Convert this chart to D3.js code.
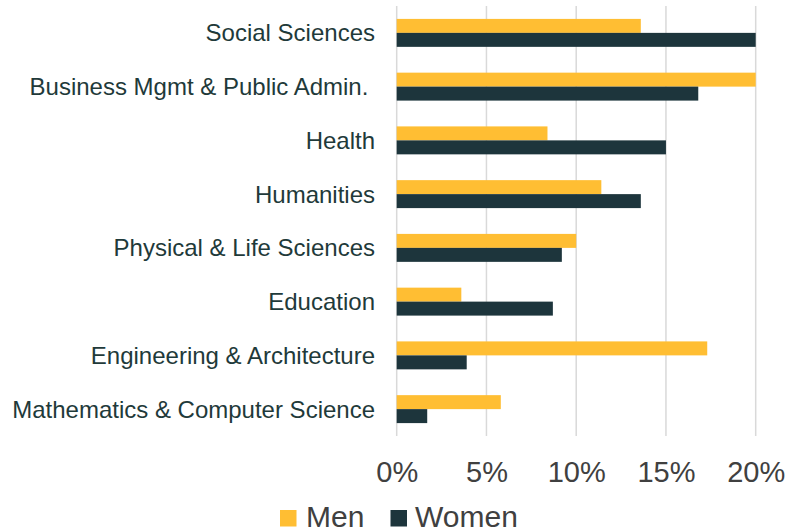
<!DOCTYPE html>
<html>
<head>
<meta charset="utf-8">
<script src="https://cdn.jsdelivr.net/npm/d3@7"></script>
<style>
  body { margin: 0; background: #fff; }
  svg { display: block; font-family: "Liberation Sans", Arial, sans-serif; }
</style>
</head>
<body>
<div id="chart"></div>
<script>
const categories = [
  "Social Sciences",
  "Business Mgmt & Public Admin. ",
  "Health",
  "Humanities",
  "Physical & Life Sciences",
  "Education",
  "Engineering & Architecture",
  "Mathematics & Computer Science"
];
const men = [13.6, 20.0, 8.4, 11.4, 10.0, 3.6, 17.3, 5.8];
const women = [20.0, 16.8, 15.0, 13.6, 9.2, 8.7, 3.9, 1.7];
const seriesNames = ["Men", "Women"];
const tickValues = [0, 5, 10, 15, 20];

const width = 787;
const height = 532;
const margin = { top: 6, right: 31.3, bottom: 96, left: 396.7 };
const colors = { Men: "#FFBE33", Women: "#1D353C" };

const data = categories.map((c, i) => ({ category: c, Men: men[i], Women: women[i] }));

const svg = d3.select("#chart")
  .append("svg")
  .attr("width", width)
  .attr("height", height);

const x = d3.scaleLinear()
  .domain([0, 20])
  .range([margin.left, width - margin.right]);

const y = d3.scaleBand()
  .domain(categories)
  .range([margin.top, height - margin.bottom])
  .paddingInner(0.48)
  .paddingOuter(0.24);

const sub = d3.scaleBand()
  .domain(seriesNames)
  .range([0, y.bandwidth()]);

// gridlines
svg.append("g")
  .selectAll("line")
  .data(tickValues)
  .join("line")
  .attr("x1", d => x(d))
  .attr("x2", d => x(d))
  .attr("y1", margin.top)
  .attr("y2", height - margin.bottom)
  .attr("stroke", "#D9D9D9")
  .attr("stroke-width", 1.5);

// bars
const groups = svg.append("g")
  .selectAll("g")
  .data(data)
  .join("g")
  .attr("transform", d => `translate(0,${y(d.category)})`);

groups.selectAll("rect")
  .data(d => seriesNames.map(s => ({ key: s, value: d[s] })))
  .join("rect")
  .attr("x", x(0))
  .attr("y", d => sub(d.key))
  .attr("width", d => x(d.value) - x(0))
  .attr("height", sub.bandwidth())
  .attr("fill", d => colors[d.key]);

// category labels
svg.append("g")
  .selectAll("text")
  .data(categories)
  .join("text")
  .attr("x", 375)
  .attr("y", d => y(d) + y.bandwidth() / 2)
  .attr("dy", "0.35em")
  .attr("text-anchor", "end")
  .style("white-space", "pre")
  .attr("font-size", 24)
  .attr("fill", "#1F3A3A")
  .text(d => d);

// x axis labels
const xAxis = svg.append("g")
  .attr("transform", `translate(0,${height - margin.bottom})`)
  .call(d3.axisBottom(x).tickValues(tickValues).tickFormat(d => d + "%").tickSize(0).tickPadding(25));
xAxis.select(".domain").remove();
xAxis.selectAll("text")
  .attr("font-size", 29)
  .attr("font-family", "Liberation Sans, Arial, sans-serif")
  .attr("fill", "#404040");

// legend
const legend = svg.append("g");
const legendItems = [
  { key: "Men", sx: 280, tx: 306 },
  { key: "Women", sx: 390.5, tx: 415 }
];
legend.selectAll("rect")
  .data(legendItems)
  .join("rect")
  .attr("x", d => d.sx)
  .attr("y", 510)
  .attr("width", 16.5)
  .attr("height", 16.5)
  .attr("fill", d => colors[d.key]);
legend.selectAll("text")
  .data(legendItems)
  .join("text")
  .attr("x", d => d.tx)
  .attr("y", 527)
  .attr("font-size", 30)
  .attr("fill", "#404040")
  .text(d => d.key);
</script>
</body>
</html>
